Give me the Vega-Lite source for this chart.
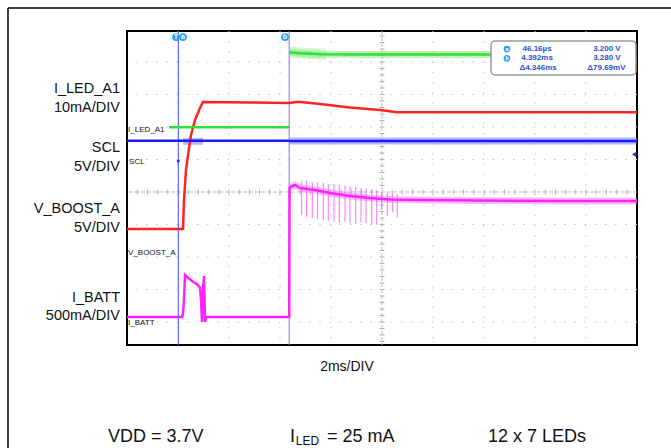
{
  "$schema": "https://vega.github.io/schema/vega-lite/v6.json",
  "width": 510,
  "height": 314,
  "autosize": {"type": "none"},
  "padding": {"left": 127, "top": 31, "right": 34, "bottom": 103},
  "background": "white",
  "config": {"view": {"stroke": "#000000", "strokeWidth": 2}, "font": "Liberation Sans"},
  "datasets": {
    "gridV": [{"t": 0}, {"t": 2}, {"t": 4}, {"t": 6}, {"t": 10}, {"t": 12}, {"t": 14}, {"t": 16}],
    "gridH": [{"d": -4}, {"d": -3}, {"d": -2}, {"d": -1}, {"d": 1}, {"d": 2}, {"d": 3}, {"d": 4}],
    "centerV": [{"t": 8}],
    "centerH": [{"d": 0}],
    "ticksX": [
      {"t": -1.6, "d": 0}, {"t": -1.2, "d": 0}, {"t": -0.8, "d": 0}, {"t": -0.4, "d": 0}, {"t": 0, "d": 0},
      {"t": 0.4, "d": 0}, {"t": 0.8, "d": 0}, {"t": 1.2, "d": 0}, {"t": 1.6, "d": 0}, {"t": 2, "d": 0},
      {"t": 2.4, "d": 0}, {"t": 2.8, "d": 0}, {"t": 3.2, "d": 0}, {"t": 3.6, "d": 0}, {"t": 4, "d": 0},
      {"t": 4.4, "d": 0}, {"t": 4.8, "d": 0}, {"t": 5.2, "d": 0}, {"t": 5.6, "d": 0}, {"t": 6, "d": 0},
      {"t": 6.4, "d": 0}, {"t": 6.8, "d": 0}, {"t": 7.2, "d": 0}, {"t": 7.6, "d": 0}, {"t": 8.4, "d": 0},
      {"t": 8.8, "d": 0}, {"t": 9.2, "d": 0}, {"t": 9.6, "d": 0}, {"t": 10, "d": 0}, {"t": 10.4, "d": 0},
      {"t": 10.8, "d": 0}, {"t": 11.2, "d": 0}, {"t": 11.6, "d": 0}, {"t": 12, "d": 0}, {"t": 12.4, "d": 0},
      {"t": 12.8, "d": 0}, {"t": 13.2, "d": 0}, {"t": 13.6, "d": 0}, {"t": 14, "d": 0}, {"t": 14.4, "d": 0},
      {"t": 14.8, "d": 0}, {"t": 15.2, "d": 0}, {"t": 15.6, "d": 0}, {"t": 16, "d": 0}, {"t": 16.4, "d": 0},
      {"t": 16.8, "d": 0}, {"t": 17.2, "d": 0}, {"t": 17.6, "d": 0}
    ],
    "ticksY": [
      {"t": 8, "d": -4.6}, {"t": 8, "d": -4.4}, {"t": 8, "d": -4.2}, {"t": 8, "d": -4}, {"t": 8, "d": -3.8},
      {"t": 8, "d": -3.6}, {"t": 8, "d": -3.4}, {"t": 8, "d": -3.2}, {"t": 8, "d": -3}, {"t": 8, "d": -2.8},
      {"t": 8, "d": -2.6}, {"t": 8, "d": -2.4}, {"t": 8, "d": -2.2}, {"t": 8, "d": -2}, {"t": 8, "d": -1.8},
      {"t": 8, "d": -1.6}, {"t": 8, "d": -1.4}, {"t": 8, "d": -1.2}, {"t": 8, "d": -1}, {"t": 8, "d": -0.8},
      {"t": 8, "d": -0.6}, {"t": 8, "d": -0.4}, {"t": 8, "d": -0.2}, {"t": 8, "d": 0.2}, {"t": 8, "d": 0.4},
      {"t": 8, "d": 0.6}, {"t": 8, "d": 0.8}, {"t": 8, "d": 1}, {"t": 8, "d": 1.2}, {"t": 8, "d": 1.4},
      {"t": 8, "d": 1.6}, {"t": 8, "d": 1.8}, {"t": 8, "d": 2}, {"t": 8, "d": 2.2}, {"t": 8, "d": 2.4},
      {"t": 8, "d": 2.6}, {"t": 8, "d": 2.8}, {"t": 8, "d": 3}, {"t": 8, "d": 3.2}, {"t": 8, "d": 3.4},
      {"t": 8, "d": 3.6}, {"t": 8, "d": 3.8}, {"t": 8, "d": 4}, {"t": 8, "d": 4.2}, {"t": 8, "d": 4.4},
      {"t": 8, "d": 4.6}, {"t": 8, "d": 4.8}
    ],
    "cursorA": [{"t": 0.012}],
    "cursorB": [{"t": 4.36}],
    "bands": [
      {"c": "g", "s": "gband", "i": 1, "t": 4.36, "d": 4.3},
      {"c": "g", "s": "gband", "i": 2, "t": 4.8, "d": 4.27},
      {"c": "g", "s": "gband", "i": 3, "t": 5.6, "d": 4.24},
      {"c": "g", "s": "gband", "i": 4, "t": 7.1, "d": 4.23},
      {"c": "g", "s": "gband", "i": 5, "t": 12.3, "d": 4.23},
      {"c": "b", "s": "bglitch", "i": 1, "t": 0.2, "d": 1.56},
      {"c": "b", "s": "bglitch", "i": 2, "t": 0.98, "d": 1.56},
      {"c": "b", "s": "bband", "i": 1, "t": 4.36, "d": 1.57},
      {"c": "b", "s": "bband", "i": 2, "t": 18, "d": 1.57},
      {"c": "m", "s": "mband", "i": 1, "t": 4.39, "d": 0.154},
      {"c": "m", "s": "mband", "i": 2, "t": 4.588, "d": 0.215},
      {"c": "m", "s": "mband", "i": 3, "t": 4.784, "d": 0.123},
      {"c": "m", "s": "mband", "i": 4, "t": 5.373, "d": 0.062},
      {"c": "m", "s": "mband", "i": 5, "t": 5.961, "d": -0.031},
      {"c": "m", "s": "mband", "i": 6, "t": 6.745, "d": -0.123},
      {"c": "m", "s": "mband", "i": 7, "t": 7.529, "d": -0.185},
      {"c": "m", "s": "mband", "i": 8, "t": 8.314, "d": -0.231},
      {"c": "m", "s": "mband", "i": 9, "t": 9.49, "d": -0.246},
      {"c": "m", "s": "mband", "i": 10, "t": 11.843, "d": -0.262},
      {"c": "m", "s": "mband", "i": 11, "t": 14.98, "d": -0.277},
      {"c": "m", "s": "mband", "i": 12, "t": 18, "d": -0.277}
    ],
    "gStart": [
      {"i": 1, "t": 4.36, "d": 4.31},
      {"i": 2, "t": 4.9, "d": 4.27},
      {"i": 3, "t": 5.8, "d": 4.24}
    ],
    "traces": [
      {"c": "r", "s": "red", "i": 1, "t": -2, "d": -1.138},
      {"c": "r", "s": "red", "i": 2, "t": 0.196, "d": -1.138},
      {"c": "r", "s": "red", "i": 3, "t": 0.235, "d": -0.246},
      {"c": "r", "s": "red", "i": 4, "t": 0.314, "d": 0.677},
      {"c": "r", "s": "red", "i": 5, "t": 0.392, "d": 1.138},
      {"c": "r", "s": "red", "i": 6, "t": 0.51, "d": 1.754},
      {"c": "r", "s": "red", "i": 7, "t": 0.667, "d": 2.215},
      {"c": "r", "s": "red", "i": 8, "t": 0.863, "d": 2.585},
      {"c": "r", "s": "red", "i": 9, "t": 0.98, "d": 2.769},
      {"c": "r", "s": "red", "i": 10, "t": 2.824, "d": 2.754},
      {"c": "r", "s": "red", "i": 11, "t": 4.353, "d": 2.738},
      {"c": "r", "s": "red", "i": 12, "t": 4.706, "d": 2.778},
      {"c": "r", "s": "red", "i": 13, "t": 5.569, "d": 2.708},
      {"c": "r", "s": "red", "i": 14, "t": 6.745, "d": 2.6},
      {"c": "r", "s": "red", "i": 15, "t": 7.922, "d": 2.523},
      {"c": "r", "s": "red", "i": 16, "t": 8.588, "d": 2.452},
      {"c": "r", "s": "red", "i": 17, "t": 18, "d": 2.452},
      {"c": "g", "s": "green1", "i": 1, "t": -0.353, "d": 1.99},
      {"c": "g", "s": "green1", "i": 2, "t": 4.353, "d": 1.99},
      {"c": "g", "s": "green2", "i": 1, "t": 4.36, "d": 4.3},
      {"c": "g", "s": "green2", "i": 2, "t": 4.8, "d": 4.27},
      {"c": "g", "s": "green2", "i": 3, "t": 5.6, "d": 4.24},
      {"c": "g", "s": "green2", "i": 4, "t": 7.1, "d": 4.23},
      {"c": "g", "s": "green2", "i": 5, "t": 12.3, "d": 4.23},
      {"c": "b", "s": "blue1", "i": 1, "t": -2, "d": 1.578},
      {"c": "b", "s": "blue1", "i": 2, "t": 4.36, "d": 1.578},
      {"c": "b", "s": "blue2", "i": 1, "t": 4.36, "d": 1.57},
      {"c": "b", "s": "blue2", "i": 2, "t": 18, "d": 1.57},
      {"c": "m", "s": "mag1", "i": 1, "t": -2, "d": -3.846},
      {"c": "m", "s": "mag1", "i": 2, "t": 0.157, "d": -3.846},
      {"c": "m", "s": "mag1", "i": 3, "t": 0.196, "d": -3.754},
      {"c": "m", "s": "mag1", "i": 4, "t": 0.235, "d": -3.323},
      {"c": "m", "s": "mag1", "i": 5, "t": 0.275, "d": -2.554},
      {"c": "m", "s": "mag1", "i": 6, "t": 0.353, "d": -2.615},
      {"c": "m", "s": "mag1", "i": 7, "t": 0.549, "d": -2.738},
      {"c": "m", "s": "mag1", "i": 8, "t": 0.784, "d": -2.862},
      {"c": "m", "s": "mag1", "i": 9, "t": 0.863, "d": -2.954},
      {"c": "m", "s": "mag1", "i": 10, "t": 0.902, "d": -3.323},
      {"c": "m", "s": "mag1", "i": 11, "t": 0.941, "d": -4.0},
      {"c": "m", "s": "mag1", "i": 12, "t": 0.98, "d": -3.015},
      {"c": "m", "s": "mag1", "i": 13, "t": 1.02, "d": -2.585},
      {"c": "m", "s": "mag1", "i": 14, "t": 1.059, "d": -4.0},
      {"c": "m", "s": "mag1", "i": 15, "t": 1.098, "d": -3.846},
      {"c": "m", "s": "mag1", "i": 16, "t": 4.36, "d": -3.846},
      {"c": "m", "s": "mag1", "i": 17, "t": 4.375, "d": 0.154},
      {"c": "m", "s": "mag2", "i": 1, "t": 4.39, "d": 0.154},
      {"c": "m", "s": "mag2", "i": 2, "t": 4.588, "d": 0.215},
      {"c": "m", "s": "mag2", "i": 3, "t": 4.784, "d": 0.123},
      {"c": "m", "s": "mag2", "i": 4, "t": 5.373, "d": 0.062},
      {"c": "m", "s": "mag2", "i": 5, "t": 5.961, "d": -0.031},
      {"c": "m", "s": "mag2", "i": 6, "t": 6.745, "d": -0.123},
      {"c": "m", "s": "mag2", "i": 7, "t": 7.529, "d": -0.185},
      {"c": "m", "s": "mag2", "i": 8, "t": 8.314, "d": -0.231},
      {"c": "m", "s": "mag2", "i": 9, "t": 9.49, "d": -0.246},
      {"c": "m", "s": "mag2", "i": 10, "t": 11.843, "d": -0.262},
      {"c": "m", "s": "mag2", "i": 11, "t": 14.98, "d": -0.277},
      {"c": "m", "s": "mag2", "i": 12, "t": 18, "d": -0.277}
    ],
    "spikes": [
      {"t": 4.851, "top": 0.34, "bot": -0.708},
      {"t": 5.047, "top": 0.36, "bot": -0.778},
      {"t": 5.267, "top": 0.3, "bot": -0.809},
      {"t": 5.478, "top": 0.3, "bot": -0.84},
      {"t": 5.698, "top": 0.28, "bot": -0.862},
      {"t": 5.894, "top": 0.25, "bot": -0.883},
      {"t": 6.118, "top": 0.24, "bot": -0.914},
      {"t": 6.325, "top": 0.22, "bot": -0.945},
      {"t": 6.549, "top": 0.2, "bot": -0.914},
      {"t": 6.745, "top": 0.18, "bot": -0.963},
      {"t": 6.969, "top": 0.15, "bot": -0.985},
      {"t": 7.176, "top": 0.12, "bot": -0.945},
      {"t": 7.373, "top": 0.1, "bot": -0.963},
      {"t": 7.596, "top": 0.08, "bot": -0.994},
      {"t": 7.792, "top": 0.05, "bot": -1.015},
      {"t": 7.988, "top": 0.0, "bot": -0.554},
      {"t": 8.208, "top": -0.02, "bot": -0.738},
      {"t": 8.42, "top": -0.05, "bot": -0.606},
      {"t": 8.6, "top": -0.06, "bot": -0.778}
    ],
    "sideLabels": [
      {"text": "I_LED_A1", "t": -2.275, "d": 3.046},
      {"text": "10mA/DIV", "t": -2.275, "d": 2.462},
      {"text": "SCL", "t": -2.275, "d": 1.231},
      {"text": "5V/DIV", "t": -2.275, "d": 0.646},
      {"text": "V_BOOST_A", "t": -2.275, "d": -0.646},
      {"text": "5V/DIV", "t": -2.275, "d": -1.231},
      {"text": "I_BATT", "t": -2.275, "d": -3.385},
      {"text": "500mA/DIV", "t": -2.275, "d": -3.938}
    ],
    "tags": [
      {"text": "I_LED_A1", "t": -1.96, "d": 1.923},
      {"text": "SCL", "t": -1.92, "d": 0.923},
      {"text": "V_BOOST_A", "t": -1.96, "d": -1.868},
      {"text": "I_BATT", "t": -1.96, "d": -4.04}
    ],
    "topCircles": [
      {"text": "T", "t": -0.078, "d": 4.769},
      {"text": "a", "t": 0.196, "d": 4.769},
      {"text": "b", "t": 4.196, "d": 4.769}
    ],
    "infoBox": [{"t": 12.275, "t2": 17.96, "d": 4.646, "d2": 3.6}],
    "boxCircles": [
      {"text": "a", "t": 12.902, "d": 4.4},
      {"text": "b", "t": 12.902, "d": 4.114}
    ],
    "boxLeft": [
      {"text": "46.16µs", "t": 14.08, "d": 4.4},
      {"text": "4.392ms", "t": 14.08, "d": 4.114},
      {"text": "Δ4.346ms", "t": 14.12, "d": 3.825}
    ],
    "boxRight": [
      {"text": "3.200 V", "t": 16.82, "d": 4.4},
      {"text": "3.280 V", "t": 16.82, "d": 4.114},
      {"text": "Δ79.69mV", "t": 16.8, "d": 3.825}
    ],
    "dotMarks": [{"t": 0.012, "d": 0.954}],
    "trig": [{"t": 17.88, "d": 1.16}],
    "bottomMain": [
      {"text": "VDD = 3.7V", "t": -2.745, "d": -7.683},
      {"text": "I", "t": 4.392, "d": -7.683},
      {"text": "= 25 mA", "t": 5.843, "d": -7.683},
      {"text": "12 x 7 LEDs", "t": 12.157, "d": -7.683}
    ],
    "bottomSub": [{"text": "LED", "t": 4.62, "d": -7.8}],
    "timeLabel": [{"text": "2ms/DIV", "t": 6.627, "d": -5.508}],
    "outerEdges": [
      {"t": -6.667, "t2": 40, "d": 5.662, "d2": 5.662},
      {"t": -6.667, "t2": -6.667, "d": 5.662, "d2": -30}
    ]
  },
  "layer": [
    {
      "data": {"name": "outerEdges"},
      "mark": {"type": "rule", "stroke": "#000000", "strokeWidth": 1.5, "clip": false},
      "encoding": {
        "x": {"field": "t", "type": "quantitative", "scale": {"domain": [-2, 18], "nice": false, "zero": false}, "axis": null},
        "x2": {"field": "t2"},
        "y": {"field": "d", "type": "quantitative", "scale": {"domain": [-4.708, 4.954], "nice": false, "zero": false}, "axis": null},
        "y2": {"field": "d2"}
      }
    },
    {
      "data": {"name": "gridV"},
      "mark": {"type": "rule", "stroke": "#c4c4c4", "strokeWidth": 1, "strokeDash": [1.5, 8.7]},
      "encoding": {"x": {"field": "t", "type": "quantitative", "axis": null}}
    },
    {
      "data": {"name": "gridH"},
      "mark": {"type": "rule", "stroke": "#c4c4c4", "strokeWidth": 1, "strokeDash": [1.5, 8.7]},
      "encoding": {"y": {"field": "d", "type": "quantitative", "axis": null}}
    },
    {
      "data": {"name": "centerV"},
      "mark": {"type": "rule", "stroke": "#bcbcbc", "strokeWidth": 1, "strokeDash": [4, 2]},
      "encoding": {"x": {"field": "t", "type": "quantitative", "axis": null}}
    },
    {
      "data": {"name": "centerH"},
      "mark": {"type": "rule", "stroke": "#bcbcbc", "strokeWidth": 1, "strokeDash": [4, 2]},
      "encoding": {"y": {"field": "d", "type": "quantitative", "axis": null}}
    },
    {
      "data": {"name": "ticksX"},
      "mark": {"type": "tick", "orient": "vertical", "color": "#b0b0b0", "size": 5, "thickness": 1, "opacity": 1},
      "encoding": {
        "x": {"field": "t", "type": "quantitative", "axis": null},
        "y": {"field": "d", "type": "quantitative", "axis": null}
      }
    },
    {
      "data": {"name": "ticksY"},
      "mark": {"type": "tick", "orient": "horizontal", "color": "#b0b0b0", "size": 5, "thickness": 1, "opacity": 1},
      "encoding": {
        "x": {"field": "t", "type": "quantitative", "axis": null},
        "y": {"field": "d", "type": "quantitative", "axis": null}
      }
    },
    {
      "data": {"name": "cursorA"},
      "mark": {"type": "rule", "strokeWidth": 1, "stroke": "#4a4aff"},
      "encoding": {"x": {"field": "t", "type": "quantitative", "axis": null}}
    },
    {
      "data": {"name": "cursorB"},
      "mark": {"type": "rule", "strokeWidth": 1, "stroke": "#8a6af0"},
      "encoding": {"x": {"field": "t", "type": "quantitative", "axis": null}}
    },
    {
      "data": {"name": "gStart"},
      "mark": {"type": "line", "strokeWidth": 11, "opacity": 0.35, "stroke": "#7de87d"},
      "encoding": {
        "x": {"field": "t", "type": "quantitative", "axis": null},
        "y": {"field": "d", "type": "quantitative", "axis": null},
        "order": {"field": "i"}
      }
    },
    {
      "data": {"name": "bands"},
      "transform": [{"filter": "datum.c === 'g'"}],
      "mark": {"type": "line", "strokeWidth": 7, "opacity": 0.5, "stroke": "#7de87d"},
      "encoding": {
        "x": {"field": "t", "type": "quantitative", "axis": null},
        "y": {"field": "d", "type": "quantitative", "axis": null},
        "order": {"field": "i"},
        "detail": {"field": "s"}
      }
    },
    {
      "data": {"name": "bands"},
      "transform": [{"filter": "datum.c === 'b'"}],
      "mark": {"type": "line", "strokeWidth": 7, "opacity": 0.5, "stroke": "#7070ff"},
      "encoding": {
        "x": {"field": "t", "type": "quantitative", "axis": null},
        "y": {"field": "d", "type": "quantitative", "axis": null},
        "order": {"field": "i"},
        "detail": {"field": "s"}
      }
    },
    {
      "data": {"name": "bands"},
      "transform": [{"filter": "datum.c === 'm'"}],
      "mark": {"type": "line", "strokeWidth": 7, "opacity": 0.5, "stroke": "#ff80ff"},
      "encoding": {
        "x": {"field": "t", "type": "quantitative", "axis": null},
        "y": {"field": "d", "type": "quantitative", "axis": null},
        "order": {"field": "i"},
        "detail": {"field": "s"}
      }
    },
    {
      "data": {"name": "spikes"},
      "mark": {"type": "rule", "stroke": "#ff55ff", "strokeWidth": 1, "opacity": 0.85},
      "encoding": {
        "x": {"field": "t", "type": "quantitative", "axis": null},
        "y": {"field": "top", "type": "quantitative", "axis": null},
        "y2": {"field": "bot"}
      }
    },
    {
      "data": {"name": "traces"},
      "transform": [{"filter": "datum.c === 'r'"}],
      "mark": {"type": "line", "strokeWidth": 2.5, "stroke": "#ff2424"},
      "encoding": {
        "x": {"field": "t", "type": "quantitative", "axis": null},
        "y": {"field": "d", "type": "quantitative", "axis": null},
        "order": {"field": "i"},
        "detail": {"field": "s"}
      }
    },
    {
      "data": {"name": "traces"},
      "transform": [{"filter": "datum.c === 'g'"}],
      "mark": {"type": "line", "strokeWidth": 2.5, "stroke": "#30e030"},
      "encoding": {
        "x": {"field": "t", "type": "quantitative", "axis": null},
        "y": {"field": "d", "type": "quantitative", "axis": null},
        "order": {"field": "i"},
        "detail": {"field": "s"}
      }
    },
    {
      "data": {"name": "traces"},
      "transform": [{"filter": "datum.c === 'b'"}],
      "mark": {"type": "line", "strokeWidth": 2.5, "stroke": "#1a1aff"},
      "encoding": {
        "x": {"field": "t", "type": "quantitative", "axis": null},
        "y": {"field": "d", "type": "quantitative", "axis": null},
        "order": {"field": "i"},
        "detail": {"field": "s"}
      }
    },
    {
      "data": {"name": "traces"},
      "transform": [{"filter": "datum.c === 'm'"}],
      "mark": {"type": "line", "strokeWidth": 2.5, "stroke": "#ff22ff"},
      "encoding": {
        "x": {"field": "t", "type": "quantitative", "axis": null},
        "y": {"field": "d", "type": "quantitative", "axis": null},
        "order": {"field": "i"},
        "detail": {"field": "s"}
      }
    },
    {
      "data": {"name": "dotMarks"},
      "mark": {"type": "point", "filled": true, "color": "#2a2aff", "size": 10, "opacity": 1},
      "encoding": {
        "x": {"field": "t", "type": "quantitative", "axis": null},
        "y": {"field": "d", "type": "quantitative", "axis": null}
      }
    },
    {
      "data": {"name": "trig"},
      "mark": {"type": "point", "shape": "triangle-left", "filled": true, "color": "#2a2aff", "size": 22, "opacity": 1},
      "encoding": {
        "x": {"field": "t", "type": "quantitative", "axis": null},
        "y": {"field": "d", "type": "quantitative", "axis": null}
      }
    },
    {
      "data": {"name": "tags"},
      "mark": {"type": "text", "align": "left", "baseline": "middle", "fontSize": 8, "color": "#111111"},
      "encoding": {
        "x": {"field": "t", "type": "quantitative", "axis": null},
        "y": {"field": "d", "type": "quantitative", "axis": null},
        "text": {"field": "text"}
      }
    },
    {
      "data": {"name": "infoBox"},
      "mark": {"type": "rect", "fill": "white", "stroke": "#9a9a9a", "strokeWidth": 1.5, "cornerRadius": 4},
      "encoding": {
        "x": {"field": "t", "type": "quantitative", "axis": null},
        "x2": {"field": "t2"},
        "y": {"field": "d", "type": "quantitative", "axis": null},
        "y2": {"field": "d2"}
      }
    },
    {
      "data": {"name": "topCircles"},
      "mark": {"type": "point", "filled": true, "color": "#1ea5ef", "size": 60, "opacity": 1},
      "encoding": {
        "x": {"field": "t", "type": "quantitative", "axis": null},
        "y": {"field": "d", "type": "quantitative", "axis": null}
      }
    },
    {
      "data": {"name": "topCircles"},
      "mark": {"type": "text", "align": "center", "baseline": "middle", "fontSize": 7, "fontWeight": "bold", "color": "white"},
      "encoding": {
        "x": {"field": "t", "type": "quantitative", "axis": null},
        "y": {"field": "d", "type": "quantitative", "axis": null},
        "text": {"field": "text"}
      }
    },
    {
      "data": {"name": "boxCircles"},
      "mark": {"type": "point", "filled": true, "color": "#1ea5ef", "size": 45, "opacity": 1},
      "encoding": {
        "x": {"field": "t", "type": "quantitative", "axis": null},
        "y": {"field": "d", "type": "quantitative", "axis": null}
      }
    },
    {
      "data": {"name": "boxCircles"},
      "mark": {"type": "text", "align": "center", "baseline": "middle", "fontSize": 6, "fontWeight": "bold", "color": "white"},
      "encoding": {
        "x": {"field": "t", "type": "quantitative", "axis": null},
        "y": {"field": "d", "type": "quantitative", "axis": null},
        "text": {"field": "text"}
      }
    },
    {
      "data": {"name": "boxLeft"},
      "mark": {"type": "text", "align": "center", "baseline": "middle", "fontSize": 8, "fontWeight": "bold", "color": "#2d4fd6"},
      "encoding": {
        "x": {"field": "t", "type": "quantitative", "axis": null},
        "y": {"field": "d", "type": "quantitative", "axis": null},
        "text": {"field": "text"}
      }
    },
    {
      "data": {"name": "boxRight"},
      "mark": {"type": "text", "align": "center", "baseline": "middle", "fontSize": 8, "fontWeight": "bold", "color": "#2d4fd6"},
      "encoding": {
        "x": {"field": "t", "type": "quantitative", "axis": null},
        "y": {"field": "d", "type": "quantitative", "axis": null},
        "text": {"field": "text"}
      }
    },
    {
      "data": {"name": "sideLabels"},
      "mark": {"type": "text", "align": "right", "baseline": "alphabetic", "fontSize": 14.5, "color": "#111111"},
      "encoding": {
        "x": {"field": "t", "type": "quantitative", "axis": null},
        "y": {"field": "d", "type": "quantitative", "axis": null},
        "text": {"field": "text"}
      }
    },
    {
      "data": {"name": "timeLabel"},
      "mark": {"type": "text", "align": "center", "baseline": "alphabetic", "fontSize": 14, "color": "#111111"},
      "encoding": {
        "x": {"field": "t", "type": "quantitative", "axis": null},
        "y": {"field": "d", "type": "quantitative", "axis": null},
        "text": {"field": "text"}
      }
    },
    {
      "data": {"name": "bottomMain"},
      "mark": {"type": "text", "align": "left", "baseline": "alphabetic", "fontSize": 18, "color": "#111111"},
      "encoding": {
        "x": {"field": "t", "type": "quantitative", "axis": null},
        "y": {"field": "d", "type": "quantitative", "axis": null},
        "text": {"field": "text"}
      }
    },
    {
      "data": {"name": "bottomSub"},
      "mark": {"type": "text", "align": "left", "baseline": "alphabetic", "fontSize": 12, "color": "#111111"},
      "encoding": {
        "x": {"field": "t", "type": "quantitative", "axis": null},
        "y": {"field": "d", "type": "quantitative", "axis": null},
        "text": {"field": "text"}
      }
    }
  ]
}
